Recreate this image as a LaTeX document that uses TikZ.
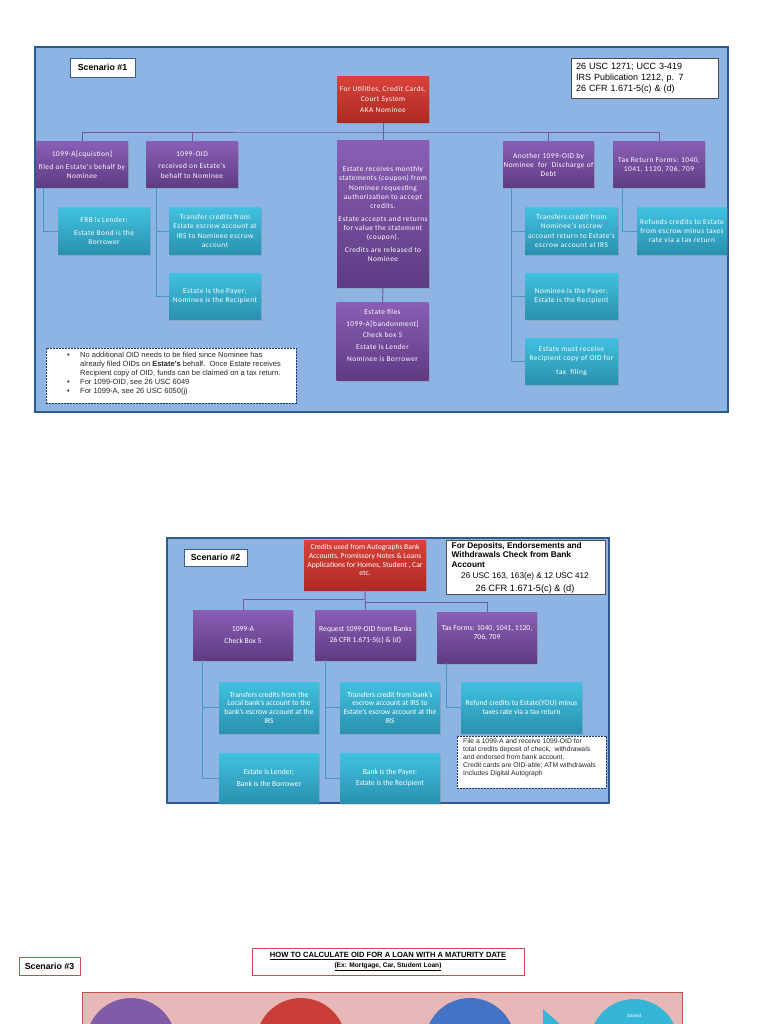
\documentclass[tikz,border=0pt]{standalone}
\usepackage{fontspec}
\setmainfont{Carlito}
\newfontfamily\arialf{Liberation Sans}
\newfontfamily\sonefont[LetterSpace=6]{Carlito}
\usetikzlibrary{shadows}
\definecolor{framefill}{HTML}{8DB4E2}
\definecolor{frameline}{HTML}{2D5B8E}
\definecolor{ptop}{HTML}{8B5EB5}
\definecolor{pbot}{HTML}{5E3B83}
\definecolor{ctop}{HTML}{40C1DF}
\definecolor{cbot}{HTML}{2A91AF}
\definecolor{rtop}{HTML}{DA423B}
\definecolor{rbot}{HTML}{AD2923}
\definecolor{plink}{HTML}{7556A3}
\definecolor{clink}{HTML}{4697C2}
\definecolor{pinkfill}{HTML}{E6B8B7}
\definecolor{pinkline}{HTML}{C0504D}
\definecolor{cpurple}{HTML}{7F5BA8}
\definecolor{cred}{HTML}{CA3E38}
\definecolor{cblue}{HTML}{4472C4}
\definecolor{ccyan}{HTML}{35B6D9}
\definecolor{labline}{HTML}{3A5F8E}
\definecolor{noteline}{HTML}{1F3864}
\tikzset{
  cbase/.style={inner sep=0.5pt, align=center, text=white, drop shadow={shadow xshift=1pt, shadow yshift=-1.5pt, opacity=0.3}},
  pbox/.style={cbase, top color=ptop, bottom color=pbot},
  cbox/.style={cbase, top color=ctop, bottom color=cbot},
  rbox/.style={cbase, top color=rtop, bottom color=rbot},
  sonesize/.style={minimum width=92pt, minimum height=46pt, font=\sonefont\fontsize{7.4}{9.3}\selectfont},
  stwosize/.style={minimum width=100pt, minimum height=50pt, font=\fontsize{7.6}{8.6}\selectfont},
  scframe/.style={fill=framefill, draw=frameline, line width=1.2pt},
  labbox/.style={fill=white, draw=labline, line width=0.9pt, font=\arialf\bfseries\fontsize{8.8}{10}\selectfont, inner sep=0pt},
  notebox/.style={fill=white, draw=noteline, line width=0.8pt, dash pattern=on 2pt off 1pt},
  refbox/.style={fill=white, draw=black!70, line width=0.6pt},
  plinkst/.style={draw=plink, line width=0.9pt},
  clinkst/.style={draw=clink, line width=0.9pt},
  notetext/.style={anchor=north west, inner sep=0pt, align=left, text=black!85},
}
\begin{document}
\begin{tikzpicture}[x=1pt,y=-1pt]
\fill[white] (0,0) rectangle (768,1024);
\useasboundingbox (0,0) rectangle (768,1024);

% ================= Scenario 1 =================
\draw[scframe] (35,47) rectangle (728,412);
\node[labbox, minimum width=65pt, minimum height=19pt] (s1lab) at (102.5,67.5) {Scenario \#1};
\node[refbox, minimum width=147pt, minimum height=40pt, text width=137pt, inner xsep=5pt, inner ysep=0pt, align=left, font=\arialf\fontsize{9}{11}\selectfont] (s1ref) at (644.5,78) {26 USC 1271; UCC 3-419\\IRS Publication 1212, p. 7\\26 CFR 1.671-5(c) \& (d)};

\node[rbox, sonesize] (s1top) at (383,99.5) {For Utilities, Credit Cards,\\Court System\\[1.5pt]AKA Nominee};
\node[pbox, sonesize] (s1a) at (82,165) {1099-A[cquistion]\\[3pt]filed on Estate's behalf by\\Nominee};
\node[pbox, sonesize] (s1b) at (192,165) {1099-OID\\[3pt]received on Estate's\\behalf to Nominee};
\node[pbox, sonesize, minimum height=146pt] (s1c) at (383,214) {Estate receives monthly\\statements (coupon) from\\Nominee requesting\\authorization to accept\\credits.\\[3pt]Estate accepts and returns\\for value the statement\\(coupon).\\[3pt]Credits are released to\\Nominee};
\node[pbox, sonesize, minimum width=91pt] (s1d) at (548.5,165) {Another 1099-OID by\\Nominee\ \ for\ \ Discharge of\\Debt};
\node[pbox, sonesize] (s1e) at (659,165) {Tax Return Forms: 1040,\\1041, 1120, 706, 709};
\node[pbox, sonesize, minimum height=78pt] (s1c1) at (382.5,341) {Estate files\\[2.5pt]1099-A[bandonment]\\[2.5pt]Check box 5\\[2.5pt]Estate is Lender\\[2.5pt]Nominee is Borrower\\[2pt]};

\node[cbox, sonesize] (s1a1) at (104,231) {FRB is Lender;\\[3pt]Estate Bond is the\\Borrower};
\node[cbox, sonesize] (s1b1) at (215,231) {Transfer credits from\\Estate escrow account at\\IRS to Nominee escrow\\account};
\node[cbox, sonesize] (s1b2) at (215,296) {Estate is the Payer;\\Nominee is the Recipient};
\node[cbox, sonesize, minimum width=93pt] (s1d1) at (571.5,231) {Transfers credit from\\Nominee's escrow\\account return to Estate's\\escrow account at IRS};
\node[cbox, sonesize, minimum width=93pt] (s1d2) at (571.5,296) {Nominee is the Payer;\\Estate is the Recipient};
\node[cbox, sonesize, minimum width=93pt] (s1d3) at (571.5,361) {Estate must receive\\Recipient copy of OID for\\[4pt]tax\ \ filing};
\node[cbox, sonesize, minimum width=90pt] (s1e1) at (682,231) {Refunds credits to Estate\\from escrow minus taxes\\rate via a tax return};

\coordinate (s1bus) at (383,132);
\draw[plinkst] (s1a.north) |- (s1bus) -| (s1e.north);
\draw[plinkst] (s1b.north) -- (s1b.north |- s1bus);
\draw[plinkst] (s1d.north) -- (s1d.north |- s1bus);
\draw[plinkst] (s1top.south) -- (s1c.north);
\draw[plinkst] (s1c.south) -- (s1c1.north);
\draw[clinkst] ([xshift=8pt]s1a.south west) |- (s1a1.west);
\draw[clinkst] ([xshift=11pt]s1b.south west) |- (s1b1.west);
\draw[clinkst] ([xshift=11pt]s1b.south west) |- (s1b2.west);
\draw[clinkst] ([xshift=9pt]s1d.south west) |- (s1d1.west);
\draw[clinkst] ([xshift=9pt]s1d.south west) |- (s1d2.west);
\draw[clinkst] ([xshift=9pt]s1d.south west) |- (s1d3.west);
\draw[clinkst] ([xshift=10pt]s1e.south west) |- (s1e1.west);

\node[notebox, minimum width=250pt, minimum height=55pt] (s1note) at (171,375.5) {};
\node[notetext, font=\arialf\fontsize{7.5}{9}\selectfont] (s1notetext) at (67,352) {\makebox[13pt][l]{\textbullet}No additional OID needs to be filed since Nominee has\\\hspace*{13pt}already filed OIDs on \textbf{Estate's} behalf.\ \ Once Estate receives\\\hspace*{13pt}Recipient copy of OID, funds can be claimed on a tax return.\\\makebox[13pt][l]{\textbullet}For 1099-OID, see 26 USC 6049\\\makebox[13pt][l]{\textbullet}For 1099-A, see 26 USC 6050(j)};

% ================= Scenario 2 =================
\draw[scframe] (167,538) rectangle (609,803);
\node[labbox, minimum width=63pt, minimum height=17pt] (s2lab) at (215.5,557.5) {Scenario \#2};
\node[rbox, minimum width=122pt, minimum height=50pt, font=\fontsize{7.6}{8.6}\selectfont] (s2top) at (365,565) {Credits used from Autographs Bank\\Accounts, Promissory Notes \& Loans\\Applications for Homes, Student , Car\\etc.\\[1pt]};
\node[refbox, minimum width=159pt, minimum height=54pt] (s2ref) at (525.5,567) {};
\node[notetext, text=black, font=\arialf\bfseries\fontsize{8.3}{9.6}\selectfont] (s2refhead) at (451.5,542) {For Deposits, Endorsements and\\Withdrawals Check from Bank\\Account};
\node[inner sep=0pt, align=center, font=\arialf] (s2refcodes) at (525,582.5) {{\fontsize{8.2}{8}\selectfont 26 USC 163, 163(e) \& 12 USC 412}\\[1pt]{\fontsize{9.2}{9}\selectfont 26 CFR 1.671-5(c) \& (d)}};

\node[pbox, stwosize] (s2a) at (243,635) {1099-A\\[3pt]Check Box 5};
\node[pbox, stwosize, minimum width=101pt] (s2b) at (365.5,635) {Request 1099-OID from Banks\\[3pt]26 CFR 1.671-5(c) \& (d)};
\node[pbox, stwosize, minimum height=51pt] (s2c) at (487,637.5) {Tax Forms: 1040, 1041, 1120,\\706, 709\\[1pt]};
\node[cbox, stwosize, minimum height=51pt] (s2a1) at (269,707.5) {Transfers credits from the\\Local bank's account to the\\bank's escrow account at the\\IRS};
\node[cbox, stwosize, minimum height=51pt] (s2b1) at (390,707.5) {Transfers credit from bank's\\escrow account at IRS to\\Estate's escrow account at the\\IRS};
\node[cbox, stwosize, minimum width=121pt, minimum height=51pt] (s2c1) at (521.5,707.5) {Refund credits to Estate(YOU) minus\\taxes rate via a tax return};
\node[cbox, stwosize] (s2a2) at (269,778) {Estate is Lender;\\[3pt]Bank is the Borrower};
\node[cbox, stwosize] (s2b2) at (390,778) {Bank is the Payer;\\[3pt]Estate is the Recipient};

\coordinate (s2busL) at (365,599);
\coordinate (s2busR) at (365,602);
\draw[plinkst] (s2top.south) -- (s2b.north);
\draw[plinkst] (s2a.north) |- (s2busL);
\draw[plinkst] (s2busR) -| (s2c.north);
\draw[clinkst] ([xshift=10pt]s2a.south west) |- (s2a1.west);
\draw[clinkst] ([xshift=10pt]s2a.south west) |- (s2a2.west);
\draw[clinkst] ([xshift=11pt]s2b.south west) |- (s2b1.west);
\draw[clinkst] ([xshift=11pt]s2b.south west) |- (s2b2.west);
\draw[clinkst] ([xshift=10pt]s2c.south west) |- (s2c1.west);

\node[notebox, minimum width=149pt, minimum height=52pt] (s2note) at (531.5,762) {};
\node[notetext, font=\arialf\fontsize{6.8}{7.9}\selectfont] (s2notetext) at (463,738.5) {File a 1099-A and receive 1099-OID for\\total credits deposit of check,\ \ withdrawals\\and endorsed from bank account.\\Credit cards are OID-able; ATM withdrawals\\Includes Digital Autograph};

% ================= Scenario 3 =================
\node[fill=white, draw=pinkline, line width=0.9pt, minimum width=61pt, minimum height=18pt, inner sep=0pt, font=\arialf\bfseries\fontsize{8.8}{10}\selectfont] (s3lab) at (49.5,966) {Scenario \#3};
\node[fill=white, draw=pinkline, line width=0.9pt, minimum width=272pt, minimum height=27pt, inner sep=0pt, align=center, font=\arialf\bfseries\fontsize{7.6}{10}\selectfont] (s3title) at (388,961.5) {\underline{HOW TO CALCULATE OID FOR A LOAN WITH A MATURITY DATE}\\{\fontsize{6.6}{8}\selectfont\underline{(Ex: Mortgage, Car, Student Loan)}}};
\begin{scope}
\clip (0,0) rectangle (768,1024);
\draw[fill=pinkfill, draw=pinkline, line width=1pt] (82,992) rectangle (682,1040);
\fill[cpurple] (131,1043) circle (45pt);
\fill[cred] (301,1043) circle (45pt);
\fill[cblue] (470,1043) circle (45pt);
\fill[ccyan] (543,1009) -- (563,1027) -- (543,1045) -- cycle;
\fill[ccyan] (634,1043) circle (44pt);
\node[text=white, font=\fontsize{5}{6}\selectfont] (s3stated) at (634,1016) {(Stated};
\end{scope}
\end{tikzpicture}
\end{document}
